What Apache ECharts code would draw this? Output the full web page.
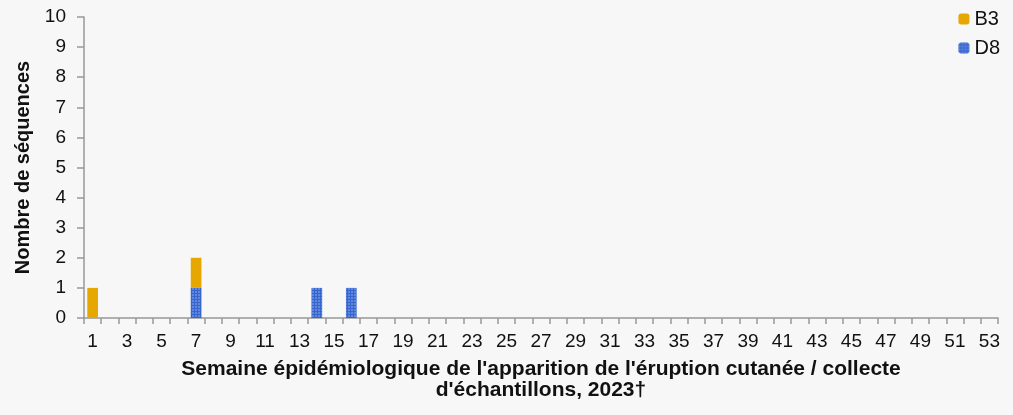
<!DOCTYPE html>
<html><head><meta charset="utf-8">
<script src="https://cdn.jsdelivr.net/npm/echarts@6/dist/echarts.min.js"></script>
<style>html,body{margin:0;padding:0;background:#f7f7f7;}#c{width:1013px;height:415px;}</style>
</head><body><div id="c"></div>
<script>
const weeks = Array.from({length:53},(_,i)=>String(i+1));
const b3Values = {1:1, 7:1};
const d8Values = {7:1, 14:1, 16:1};
const yTicks = [0,1,2,3,4,5,6,7,8,9,10];
const b3 = weeks.map(w => b3Values[w] || 0);
const d8 = weeks.map(w => d8Values[w] || 0);
const font = 'Liberation Sans, Arial, sans-serif';
const chart = echarts.init(document.getElementById('c'));
chart.setOption({
  backgroundColor:'#f7f7f7',
  animation:false,
  grid:{left:84,right:15,top:17,bottom:97},
  legend:{orient:'vertical',right:8,top:4,itemWidth:11,itemHeight:11,itemGap:9,
    textStyle:{fontFamily:font,fontSize:20,color:'#111'},data:['B3','D8']},
  xAxis:{type:'category',data:weeks,
    axisLine:{lineStyle:{color:'#999',width:1.5}},
    axisTick:{show:true,alignWithLabel:false,interval:0,length:6,lineStyle:{color:'#999',width:1.5}},
    axisLabel:{interval:1,fontFamily:font,fontSize:19,color:'#111',margin:14},
    name:"Semaine épidémiologique de l'apparition de l'éruption cutanée / collecte\nd'échantillons, 2023†",
    nameLocation:'middle',nameGap:41,
    nameTextStyle:{fontFamily:font,fontSize:21,fontWeight:'bold',color:'#111',lineHeight:21}},
  yAxis:{type:'value',min:0,max:10,interval:1,
    axisLine:{show:true,lineStyle:{color:'#999',width:1.5}},
    axisTick:{show:true,length:7,lineStyle:{color:'#999',width:1.5}},
    splitLine:{show:false},
    axisLabel:{fontFamily:font,fontSize:19,color:'#111',margin:18,
      formatter:v=>yTicks.includes(v)?String(v):''},
    name:'Nombre de séquences',nameLocation:'middle',nameGap:48,
    nameTextStyle:{fontFamily:font,fontSize:20,fontWeight:'bold',color:'#111'}},
  series:[
    {name:'D8',type:'bar',stack:'s',data:d8,barWidth:'62%',
      itemStyle:{color:'#3565d0',decal:{symbol:'circle',symbolSize:0.8,color:'rgba(255,255,255,0.5)',dashArrayX:[2,1],dashArrayY:[2,1]}}},
    {name:'B3',type:'bar',stack:'s',data:b3,barWidth:'62%',itemStyle:{color:'#e6a700'}}
  ]
});
</script></body></html>
